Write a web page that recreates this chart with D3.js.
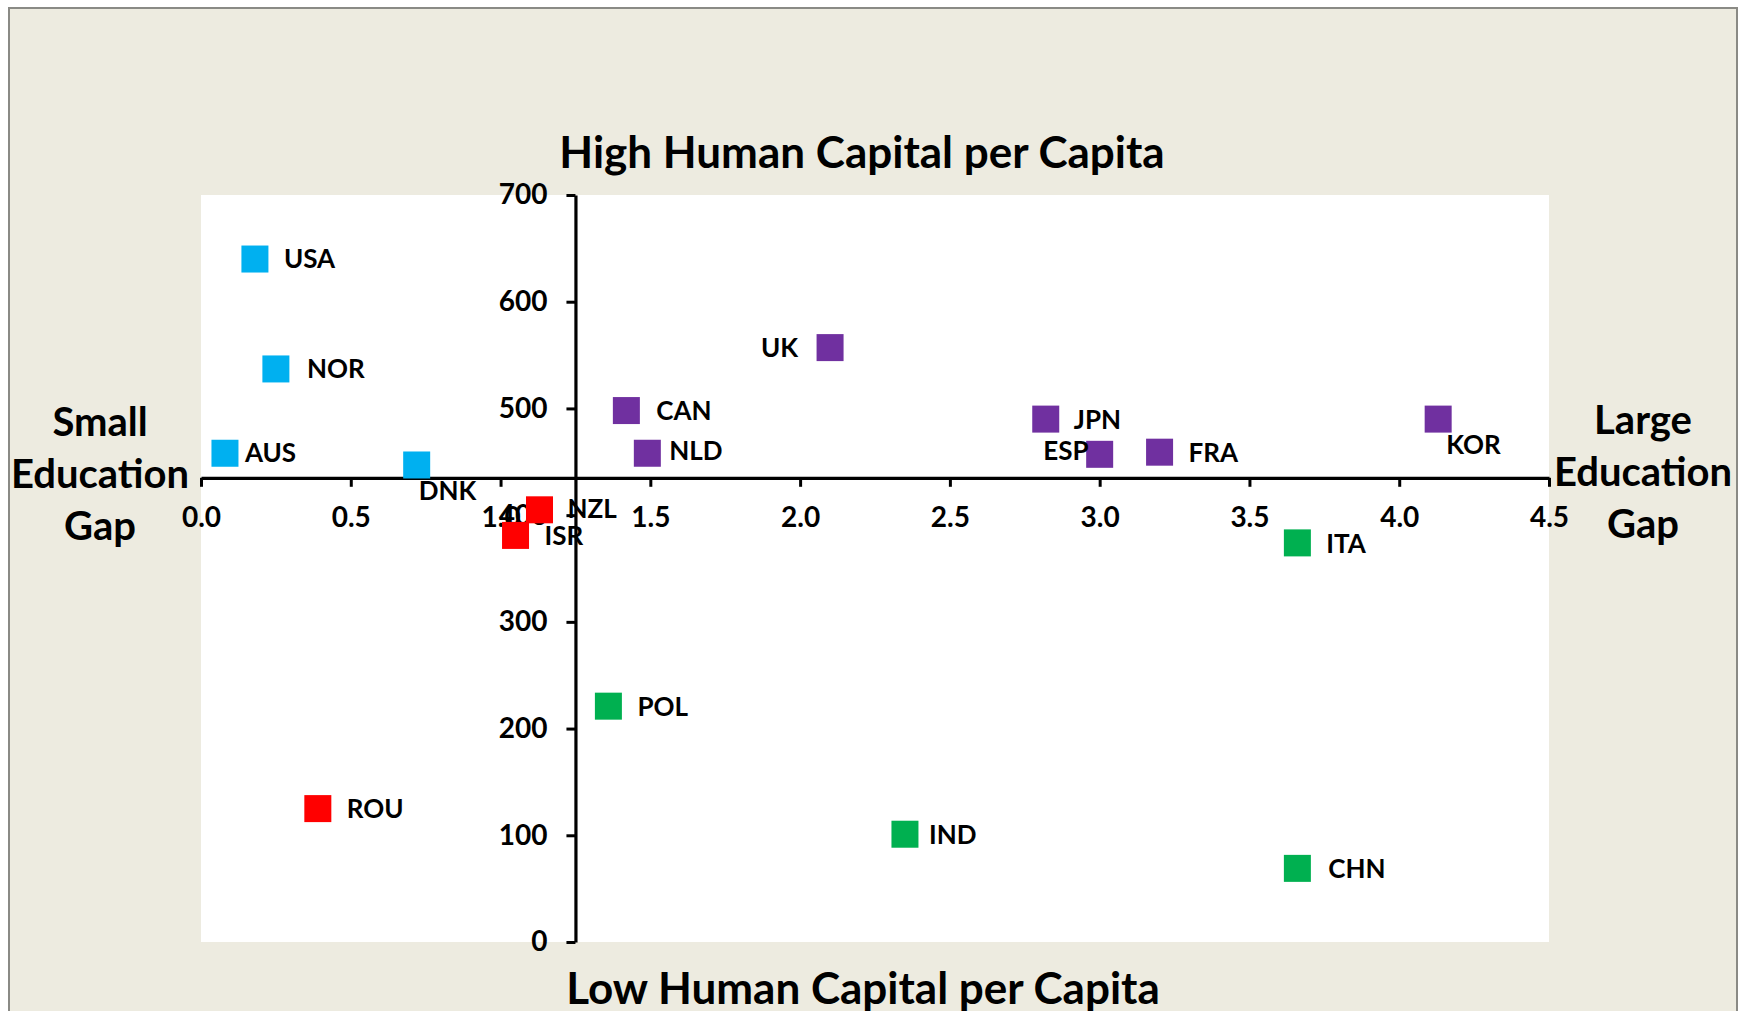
<!DOCTYPE html>
<html>
<head>
<meta charset="utf-8">
<script src="https://cdn.jsdelivr.net/npm/d3@7"></script>
<style>
  html, body { margin: 0; padding: 0; background: #ffffff; }
  svg { display: block; font-family: Lato, "Open Sans", sans-serif; font-weight: 700; }
</style>
</head>
<body>
<svg id="chart" width="1745" height="1011"></svg>
<script>
// Countries, grouped by quadrant colour
const countries = ["USA","NOR","AUS","DNK","NZL","ISR","ROU","CAN","NLD","UK","JPN","ESP","FRA","KOR","ITA","POL","IND","CHN"];
// Education gap (horizontal)
const educationGap = [0.18,0.25,0.08,0.72,1.13,1.05,0.39,1.42,1.49,2.10,2.82,3.00,3.20,4.13,3.66,1.36,2.35,3.66];
// Human capital per capita (vertical)
const humanCapital = [640,537,458,447,405,381,125,498,458,557,490,457,459,490,374,221,101,69];
// Quadrant group of each country
const groups = ["small-high","small-high","small-high","small-high","small-low","small-low","small-low",
                "large-high","large-high","large-high","large-high","large-high","large-high","large-high",
                "large-low","large-low","large-low","large-low"];
const groupColors = {"small-high":"#00B0F0","large-high":"#7030A0","small-low":"#FF0000","large-low":"#00B050"};

const xTicks = [0,0.5,1.0,1.5,2.0,2.5,3.0,3.5,4.0,4.5];
const yTicks = [0,100,200,300,400,500,600,700];
const xCross = 435;   // horizontal axis crosses at this human-capital value
const yCross = 1.25;  // vertical axis crosses at this education-gap value

// Label placement for each country: text anchor and offset from marker centre
const labelPlacement = {
  USA:["start",29,0], NOR:["start",31,0], AUS:["start",20,-1], DNK:["start",2,26],
  NZL:["start",28,-1], ISR:["start",29,0], ROU:["start",29,0], CAN:["start",30,0],
  NLD:["start",22,-3], UK:["end",-32,0], JPN:["start",28,1], ESP:["end",-11,-4],
  FRA:["start",29,0], KOR:["start",8,26], ITA:["start",29,1], POL:["start",29,0],
  IND:["start",24,0], CHN:["start",31,0]
};

const svg = d3.select("#chart");
const W = 1745, H = 1011;
const plot = {left: 201, right: 1549, top: 195, bottom: 942};

// Page frame
svg.append("rect").attr("x", 9).attr("y", 8).attr("width", 1728).attr("height", H + 10)
  .attr("fill", "#EDEBE0").attr("stroke", "#8A8A85").attr("stroke-width", 2);

// Plot area
svg.append("rect").attr("x", plot.left).attr("y", plot.top)
  .attr("width", plot.right - plot.left).attr("height", plot.bottom - plot.top)
  .attr("fill", "#ffffff");

const x = d3.scaleLinear().domain([0, 4.5]).range([plot.left, plot.right]);
const y = d3.scaleLinear().domain([0, 700]).range([plot.bottom, plot.top]);

// Horizontal axis through the crossing value
const xAxis = svg.append("g").attr("transform", `translate(0,${y(xCross)})`)
  .call(d3.axisBottom(x).tickValues(xTicks).tickFormat(d3.format(".1f")).tickSize(9).tickPadding(20).tickSizeOuter(0));
// Vertical axis through the crossing value
const yAxis = svg.append("g").attr("transform", `translate(${x(yCross)},0)`)
  .call(d3.axisLeft(y).tickValues(yTicks).tickFormat(d3.format("d")).tickSize(9).tickPadding(19).tickSizeOuter(0));

[xAxis, yAxis].forEach(a => {
  a.select(".domain").attr("stroke", "#000").attr("stroke-width", 3.2);
  a.selectAll(".tick line").attr("stroke", "#000").attr("stroke-width", 3);
  a.selectAll(".tick text").attr("fill", "#000").style("font-size", "28px").style("font-weight", 700)
    .style("font-family", "Lato, sans-serif");
});

// Markers
const pts = countries.map((c, i) => ({c, gx: educationGap[i], hc: humanCapital[i], g: groups[i]}));
const size = 27;
svg.append("g").selectAll("rect").data(pts).join("rect")
  .attr("x", d => x(d.gx) - size / 2).attr("y", d => y(d.hc) - size / 2)
  .attr("width", size).attr("height", size)
  .attr("fill", d => groupColors[d.g]);

// Country labels
svg.append("g").selectAll("text").data(pts).join("text")
  .attr("x", d => x(d.gx) + labelPlacement[d.c][1])
  .attr("y", d => y(d.hc) + labelPlacement[d.c][2])
  .attr("dy", "0.36em")
  .attr("text-anchor", d => labelPlacement[d.c][0])
  .style("font-size", "26px").attr("fill", "#000")
  .text(d => d.c);

// Quadrant titles
svg.append("text").attr("x", 862).attr("y", 152).attr("dy", "0.36em").attr("text-anchor", "middle")
  .style("font-size", "44px").text("High Human Capital per Capita");
svg.append("text").attr("x", 863).attr("y", 988).attr("dy", "0.36em").attr("text-anchor", "middle")
  .style("font-size", "44px").text("Low Human Capital per Capita");

const sideLeft = ["Small", "Education", "Gap"];
const sideRight = ["Large", "Education", "Gap"];
svg.append("g").selectAll("text").data(sideLeft).join("text")
  .attr("x", 100).attr("y", (d, i) => 422 + i * 52).attr("dy", "0.36em").attr("text-anchor", "middle")
  .style("font-size", "40px").text(d => d);
svg.append("g").selectAll("text").data(sideRight).join("text")
  .attr("x", 1643).attr("y", (d, i) => 420 + i * 52).attr("dy", "0.36em").attr("text-anchor", "middle")
  .style("font-size", "40px").text(d => d);
</script>
</body>
</html>
